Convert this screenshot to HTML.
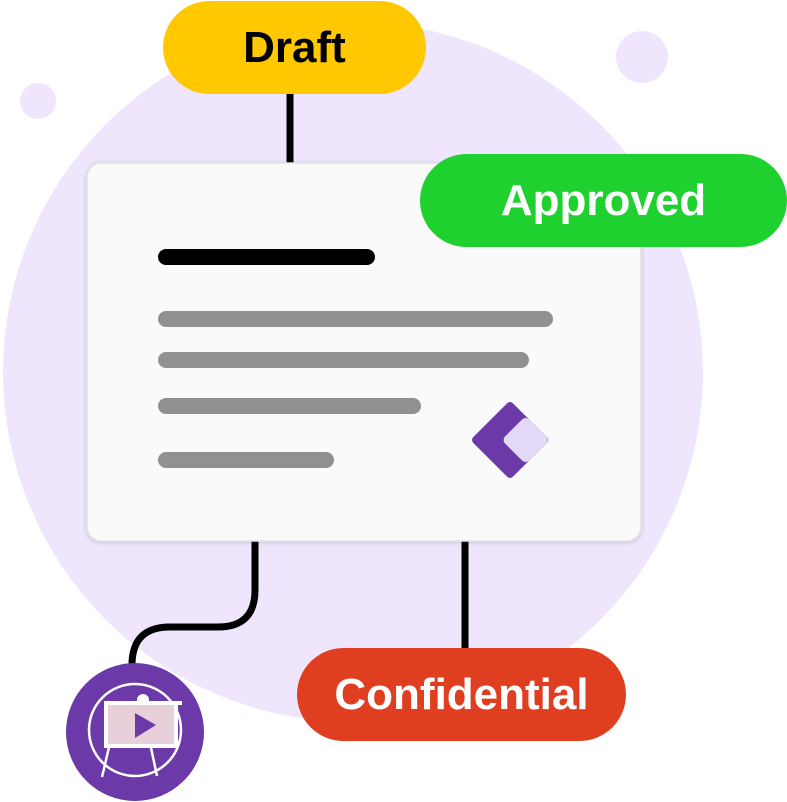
<!DOCTYPE html>
<html><head><style>
html,body{margin:0;padding:0;background:#fff;}
body{width:787px;height:802px;position:relative;overflow:hidden;font-family:"Liberation Sans",sans-serif;}
.pill{position:absolute;border-radius:47px;color:#fff;font-weight:bold;font-size:44px;display:flex;align-items:center;justify-content:center;height:93px;}
</style></head><body>
<svg width="787" height="802" style="position:absolute;left:0;top:0">
<defs><filter id="sh" x="-10%" y="-10%" width="120%" height="120%"><feDropShadow dx="0" dy="1" stdDeviation="2" flood-color="#000" flood-opacity="0.18"/></filter></defs>
<circle cx="353" cy="372" r="350" fill="#efe6fd"/>
<circle cx="38" cy="101" r="18" fill="#efe6fd"/>
<circle cx="642" cy="57" r="26" fill="#efe6fd"/>
<line x1="290" y1="90" x2="290" y2="166" stroke="#000" stroke-width="7"/>
<path d="M255 538 V590 Q255 627 218 627 H170 Q132 627 132 665" fill="none" stroke="#000" stroke-width="7"/>
<line x1="465" y1="538" x2="465" y2="650" stroke="#000" stroke-width="7"/>
<rect x="87" y="163" width="554" height="378" rx="14" fill="#fafafa" stroke="#e2e2e2" stroke-width="1.5" filter="url(#sh)"/>
<g stroke-linecap="round" stroke-width="16">
<line x1="166" y1="257" x2="367" y2="257" stroke="#000"/>
<line x1="166" y1="319" x2="545" y2="319" stroke="#909090"/>
<line x1="166" y1="360" x2="521" y2="360" stroke="#909090"/>
<line x1="166" y1="406" x2="413" y2="406" stroke="#909090"/>
<line x1="166" y1="460" x2="326" y2="460" stroke="#909090"/>
</g>
<g transform="translate(510,440) rotate(45)">
<rect x="-28" y="-28" width="56" height="56" rx="4" fill="#6b3aa8"/>
<rect x="-6" y="-28" width="34" height="34" rx="5" fill="#e3d9f7"/>
</g>
<circle cx="135" cy="732" r="69" fill="#6b3aa8"/>
<circle cx="135" cy="730" r="46" fill="none" stroke="#fff" stroke-width="2.5"/>
<circle cx="143" cy="700" r="6" fill="#fff"/>
<line x1="110" y1="743" x2="102" y2="777" stroke="#fff" stroke-width="2.5"/>
<line x1="150" y1="743" x2="157" y2="776" stroke="#fff" stroke-width="2.5"/>
<rect x="106" y="703" width="70" height="43" fill="#e8d0da" stroke="#fff" stroke-width="4"/>
<rect x="104" y="701" width="78" height="4" fill="#fff"/>
<polygon points="135,713 135,738 156,725" fill="#6b3aa8"/>
</svg>
<div class="pill" style="left:163px;top:1px;width:263px;background:#ffc800;color:#000;">Draft</div>
<div class="pill" style="left:420px;top:154px;width:367px;background:#1fd12f;">Approved</div>
<div class="pill" style="left:297px;top:648px;width:329px;background:#e03e20;">Confidential</div>
</body></html>
